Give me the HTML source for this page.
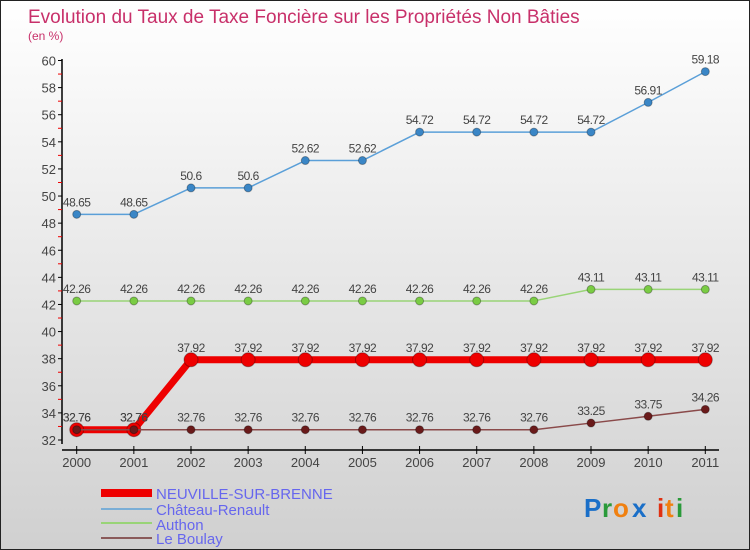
<!DOCTYPE html>
<html><head><meta charset="utf-8"><style>
body{margin:0}
#c{width:750px;height:550px;position:relative;overflow:hidden;background:linear-gradient(#ffffff,#d0d0d0);box-sizing:border-box;border:1px solid #222;font-family:"Liberation Sans",sans-serif}
svg text{font-family:"Liberation Sans",sans-serif}
</style></head><body>
<div id="c">
<svg width="750" height="550" id="svg">
<text x="27" y="22" font-size="19" fill="#c8306a">Evolution du Taux de Taxe Foncière sur les Propriétés Non Bâties</text>
<text x="27" y="39" font-size="12" fill="#c8306a">(en %)</text>
<g id="axes"></g><g id="series"></g>
<g>
<rect x="100" y="488" width="51" height="8" fill="#e00"/>
<text x="155" y="498" font-size="15" fill="#6666ee">NEUVILLE-SUR-BRENNE</text>
<line x1="100" x2="151" y1="508" y2="508" stroke="#7aaed6" stroke-width="2"/>
<text x="155" y="514" font-size="15" fill="#6666ee">Château-Renault</text>
<line x1="100" x2="151" y1="522" y2="522" stroke="#99d477" stroke-width="2"/>
<text x="155" y="529" font-size="15" fill="#6666ee">Authon</text>
<line x1="100" x2="151" y1="537" y2="537" stroke="#8a5a5a" stroke-width="2"/>
<text x="155" y="543" font-size="15" fill="#6666ee">Le Boulay</text>
</g>
<g font-size="26" font-weight="bold">
<text x="583" y="516" fill="#1a6fc8">P</text><text x="601" y="516" fill="#2a9a3a">r</text><text x="612" y="516" fill="#f08010">o</text><text x="631" y="516" fill="#1a6fc8">x</text><text x="656" y="516" fill="#e03010">i</text><text x="664" y="516" fill="#f08010">t</text><text x="675" y="516" fill="#2a9a3a">i</text>
</g>
</svg></div>
<script>
const years=[2000,2001,2002,2003,2004,2005,2006,2007,2008,2009,2010,2011];
const neuville=[32.76,32.76,37.92,37.92,37.92,37.92,37.92,37.92,37.92,37.92,37.92,37.92];
const chateau=[48.65,48.65,50.6,50.6,52.62,52.62,54.72,54.72,54.72,54.72,56.91,59.18];
const authon=[42.26,42.26,42.26,42.26,42.26,42.26,42.26,42.26,42.26,43.11,43.11,43.11];
const boulay=[32.76,32.76,32.76,32.76,32.76,32.76,32.76,32.76,32.76,33.25,33.75,34.26];
const yTicks=[32,34,36,38,40,42,44,46,48,50,52,54,56,58,60];
const yMin=32,yMax=60;
const NS='http://www.w3.org/2000/svg';
const X=i=>75.7+i*(704.3-75.7)/(years.length-1);
const Y=v=>439-(v-yMin)*(439-59.5)/(yMax-yMin);
function mk(p,t,a){const e=document.createElementNS(NS,t);for(const k in a)e.setAttribute(k,a[k]);p.appendChild(e);return e;}
const ax=document.getElementById('axes');
let e=mk(ax,'line',{x1:61,x2:61,y1:58,y2:443,stroke:'#000','stroke-width':1.5});


e=mk(ax,'line',{x1:61,x2:718,y1:449,y2:449,stroke:'#000','stroke-width':1.5});


yTicks.forEach(v=>{
 mk(ax,'line',{x1:57,x2:61,y1:Y(v),y2:Y(v),stroke:'#000'});
 if(v<yMax) mk(ax,'line',{x1:57,x2:61,y1:Y(v+1),y2:Y(v+1),stroke:'#e00'});
 const t=mk(ax,'text',{x:55,y:Y(v)+5,'font-size':13,fill:'#444','text-anchor':'end'});
 t.textContent=v;
 
 
});
years.forEach((y,i)=>{
 mk(ax,'line',{x1:X(i),x2:X(i),y1:445,y2:453,stroke:'#000'});
 const t=mk(ax,'text',{x:X(i),y:466,'font-size':13,fill:'#444','text-anchor':'middle'});
 t.textContent=y;
 
 
});
const sg=document.getElementById('series');
function series(data,name,color,w,r,dot){
 const g=mk(sg,'g',{});
 
 
 const l=mk(g,'polyline',{points:data.map((v,i)=>X(i)+','+Y(v)).join(' '),fill:'none',stroke:color,'stroke-width':w,'stroke-linejoin':'round'});
 
 
 data.forEach((v,i)=>{
  const c=mk(g,'circle',{cx:X(i),cy:Y(v),r:r,fill:dot,stroke:'rgba(0,0,0,0.3)'});
  
  
  const t=mk(g,'text',{x:X(i),y:Y(v)-8,'font-size':12,fill:'#444','text-anchor':'middle','letter-spacing':'-0.5'});
  t.textContent=v;
  
  
 });
}
series(chateau,'chateau-renault','#5a9fd8',1.5,4,'#3a86c6');
series(authon,'authon','#99d477',1.5,4,'#7acc44');
series(neuville,'neuville-sur-brenne','#ee0000',7,7,'#ee0000');
series(boulay,'le-boulay','#8a4a4a',1.5,4,'#6a1a1a');
</script>
</body></html>
